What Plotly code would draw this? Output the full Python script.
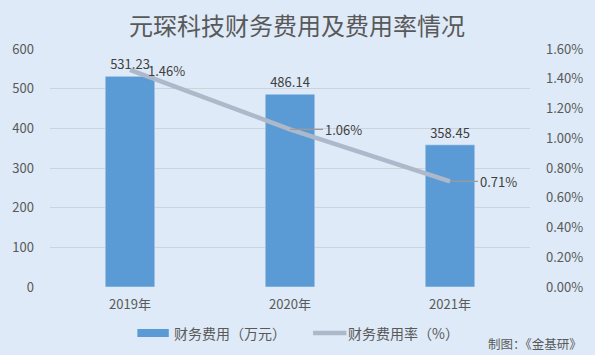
import plotly.graph_objects as go

categories = ["2019年", "2020年", "2021年"]
expense = [531.23, 486.14, 358.45]
rate = [1.46, 1.06, 0.71]
left_ticks = [0, 100, 200, 300, 400, 500, 600]
right_ticks = [0, 0.2, 0.4, 0.6, 0.8, 1.0, 1.2, 1.4, 1.6]
series_names = ["财务费用（万元）", "财务费用率（%）"]

FONT = "Noto Sans CJK SC, Microsoft YaHei, sans-serif"
GREY = "#595959"
DARK = "#404040"
BG = "#DEEAF7"
BAR = "#5B9BD5"
LINE = "#ADB9CA"

W, H = 595, 355

fig = go.Figure()
fig.add_trace(go.Bar(
    x=categories, y=expense, name=series_names[0], marker_color=BAR, width=0.31,
    text=[f"{v:.2f}" for v in expense], textposition="outside",
    textfont=dict(size=13, color=DARK, family=FONT), cliponaxis=False,
    showlegend=False,
))
fig.add_trace(go.Scatter(
    x=categories, y=rate, name=series_names[1], mode="lines",
    line=dict(color=LINE, width=4.5), yaxis="y2", showlegend=False,
))

# line data labels (leader lines for 2nd and 3rd)
offsets = [(16, False), (33, True), (28, True)]
for cat, v, (ax, arrow) in zip(categories, rate, offsets):
    fig.add_annotation(
        x=cat, y=v, xref="x", yref="y2", text=f"{v:.2f}%",
        showarrow=arrow, arrowhead=0, arrowwidth=1.2, arrowcolor="#9A9A9A",
        ax=ax, ay=0, xanchor="left", yanchor="middle",
        font=dict(size=13, color=DARK, family=FONT),
        xshift=0 if arrow else ax, yshift=0 if arrow else -1,
        standoff=0, startstandoff=0,
    )

# manual legend
fig.add_shape(type="rect", xref="paper", yref="paper",
              x0=(134 - 45) / 489, x1=(166 - 45) / 489,
              y0=-(333 + 4 - 287) / 238, y1=-(333 - 4 - 287) / 238,
              fillcolor=BAR, line=dict(width=0))
fig.add_shape(type="line", xref="paper", yref="paper",
              x0=(313 - 45) / 489, x1=(347 - 45) / 489,
              y0=-(333 - 287) / 238, y1=-(333 - 287) / 238,
              line=dict(color=LINE, width=4.5))
for name, xl in zip(series_names, [169, 347]):
    fig.add_annotation(x=(xl - 45) / 489, y=-(333 - 287) / 238, xref="paper", yref="paper",
                       text=name, showarrow=False, xanchor="left", yanchor="middle",
                       font=dict(size=14, color=GREY, family=FONT))

fig.add_annotation(
    x=(588 - 45) / 489, y=-(354 - 287) / 238, xref="paper", yref="paper",
    yanchor="bottom", xanchor="right",
    text="制图：《金基研》", showarrow=False, borderpad=0,
    font=dict(size=12.5, color=GREY, family=FONT),
)

fig.update_layout(
    width=W, height=H,
    paper_bgcolor=BG, plot_bgcolor=BG,
    margin=dict(l=45, r=61, t=49, b=68),
    font=dict(family=FONT, color=GREY, size=13),
    title=dict(text="元琛科技财务费用及费用率情况", x=297 / W, xanchor="center",
               y=1 - 27 / H, yanchor="middle",
               font=dict(size=24, color=GREY, family=FONT)),
    xaxis=dict(showgrid=False, zeroline=False, showline=False, ticks="",
               tickfont=dict(size=13, color=GREY), ticklabelstandoff=8),
    yaxis=dict(range=[0, 600], tickvals=left_ticks, showgrid=True, gridcolor="#CDD3DA",
               gridwidth=1, zeroline=False, ticks="", ticklabelstandoff=15,
               tickfont=dict(size=13, color=GREY)),
    yaxis2=dict(range=[0, 1.6], tickvals=right_ticks,
                ticktext=[f"{v:.2f}%" for v in right_ticks], overlaying="y", side="right",
                showgrid=False, zeroline=False, ticks="", ticklabelstandoff=15,
                tickfont=dict(size=13, color=GREY)),
    showlegend=False,
)

fig.write_html("out.html", config={"displayModeBar": False},
               post_script="document.body.style.margin='0';document.body.style.overflow='hidden';")
